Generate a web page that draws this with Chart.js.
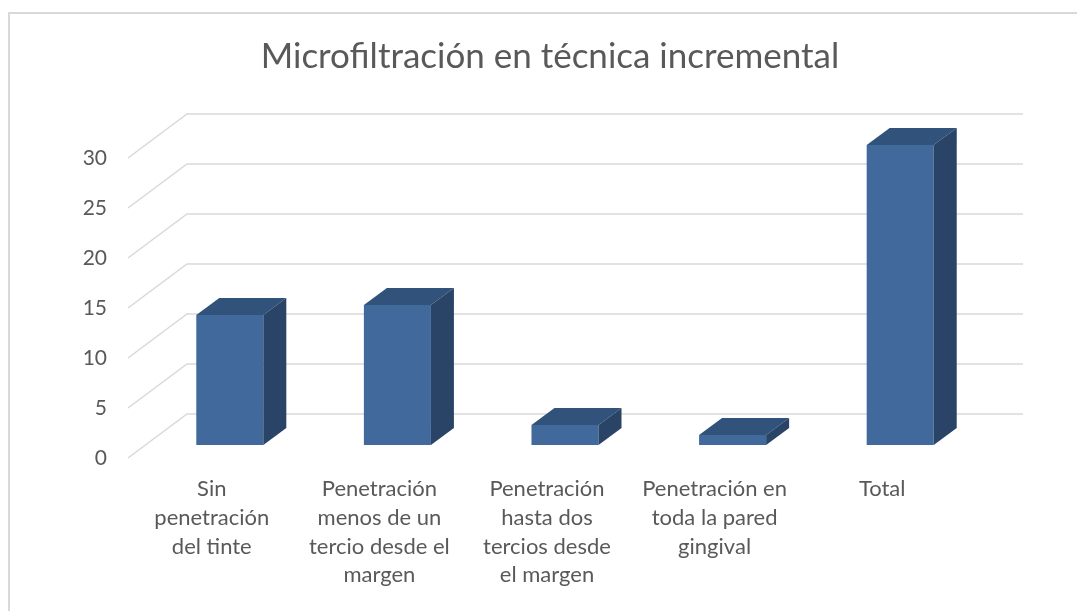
<!DOCTYPE html>
<html>
<head>
<meta charset="utf-8">
<script src="https://cdn.jsdelivr.net/npm/chart.js@4/dist/chart.umd.min.js"></script>
<style>
  html, body { margin: 0; padding: 0; background: #fff; overflow: hidden; }
  #wrap { width: 1077px; height: 611px; overflow: hidden; }
</style>
</head>
<body>
<div id="wrap"><canvas id="grafico" width="1099" height="611"></canvas></div>
<script>
// Datos del gráfico
const titulo = 'Microfiltración en técnica incremental';
const categorias = [
    ['Sin', 'penetración', 'del tinte'],
    ['Penetración', 'menos de un', 'tercio desde el', 'margen'],
    ['Penetración', 'hasta dos', 'tercios desde', 'el margen'],
    ['Penetración en', 'toda la pared', 'gingival'],
    ['Total']
];
const valores = [13, 14, 2, 1, 30];
const ejeY = { min: 0, max: 30, paso: 5 };

const colorFrente = '#41699b';
const colorTapa = '#31527a';
const colorLado = '#294467';
const colorGrilla = '#d9d9d9';
const colorTexto = '#595959';

// Efecto 3D: profundidad de la barra y del piso
const prof = { dx: 23, dy: -17 };
const piso = { frenteX: -18, frenteY: 13, fondoX: 41, fondoY: -31 };

const efecto3D = {
    id: 'efecto3D',
    beforeDraw(chart) {
        const c = chart.ctx;
        c.save();
        c.fillStyle = '#fff';
        c.fillRect(0, 0, chart.width, chart.height);
        c.strokeStyle = colorGrilla;
        c.lineWidth = 2;
        c.beginPath();
        c.moveTo(9, chart.height);
        c.lineTo(9, 13);
        c.lineTo(chart.width, 13);
        c.stroke();
        // título centrado sobre el marco del gráfico
        c.fillStyle = colorTexto;
        c.font = '35px Lato';
        c.textAlign = 'center';
        c.textBaseline = 'middle';
        c.fillText(titulo, 550, 57);
        c.restore();
    },
    beforeDatasetsDraw(chart) {
        const c = chart.ctx;
        const y = chart.scales.y;
        const area = chart.chartArea;
        c.save();
        c.strokeStyle = colorGrilla;
        c.lineWidth = 1.5;
        y.ticks.forEach(t => {
            const py = y.getPixelForValue(t.value);
            c.beginPath();
            c.moveTo(area.left + piso.frenteX, py + piso.frenteY);
            c.lineTo(area.left + piso.fondoX, py + piso.fondoY);
            c.lineTo(area.right + piso.fondoX - 2, py + piso.fondoY);
            c.stroke();
        });
        c.restore();
    },
    afterDatasetsDraw(chart) {
        const c = chart.ctx;
        c.save();
        chart.getDatasetMeta(0).data.forEach(bar => {
            const izq = bar.x - bar.width / 2;
            const der = bar.x + bar.width / 2;
            // tapa
            c.fillStyle = colorTapa;
            c.beginPath();
            c.moveTo(izq, bar.y);
            c.lineTo(der, bar.y);
            c.lineTo(der + prof.dx, bar.y + prof.dy);
            c.lineTo(izq + prof.dx, bar.y + prof.dy);
            c.closePath();
            c.fill();
            // lado
            c.fillStyle = colorLado;
            c.beginPath();
            c.moveTo(der, bar.y);
            c.lineTo(der + prof.dx, bar.y + prof.dy);
            c.lineTo(der + prof.dx, bar.base + prof.dy);
            c.lineTo(der, bar.base);
            c.closePath();
            c.fill();
        });
        c.restore();
    }
};

const ctx = document.getElementById('grafico').getContext('2d');

new Chart(ctx, {
    type: 'bar',
    data: {
        labels: categorias,
        datasets: [{
            data: valores,
            backgroundColor: colorFrente,
            borderWidth: 0,
            barPercentage: 0.4,
            categoryPercentage: 1
        }]
    },
    options: {
        responsive: false,
        animation: false,
        devicePixelRatio: 1,
        layout: { padding: { left: 40, right: 115, top: 145, bottom: 0 } },
        plugins: {
            legend: { display: false },
            tooltip: { enabled: false },
            title: { display: false }
        },
        scales: {
            x: {
                grid: { display: false },
                border: { display: false },
                afterFit: s => { s.height = 166; },
                ticks: {
                    color: colorTexto,
                    autoSkip: false,
                    maxRotation: 0,
                    labelOffset: -18,
                    padding: 22,
                    font: { family: 'Lato', size: 22, lineHeight: 1.3 }
                }
            },
            y: {
                min: ejeY.min,
                max: ejeY.max,
                grid: { display: false },
                border: { display: false },
                afterFit: s => { s.width = 106; },
                ticks: {
                    stepSize: ejeY.paso,
                    color: colorTexto,
                    labelOffset: 13,
                    padding: 31,
                    font: { family: 'Lato', size: 21 }
                }
            }
        }
    },
    plugins: [efecto3D]
});
</script>
</body>
</html>
